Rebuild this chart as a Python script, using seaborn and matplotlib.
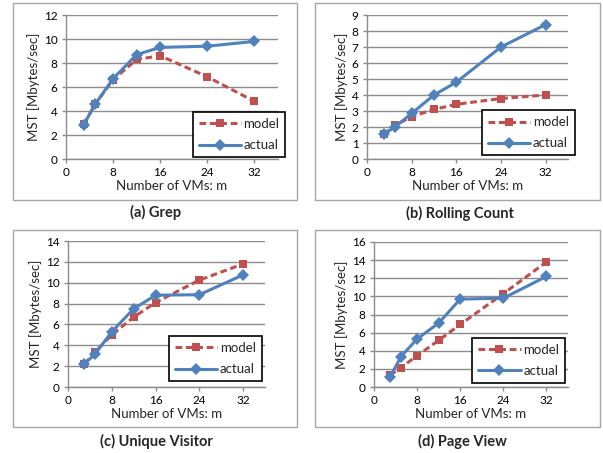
import pandas as pd
import numpy as np
import matplotlib
matplotlib.use("Agg")
import matplotlib.pyplot as plt
from matplotlib.patches import Rectangle
import seaborn as sns

# number of VMs (shared x values)
vms = [3, 5, 8, 12, 16, 24, 32]

# MST values (Mbytes/sec)
grep_model = [2.9, 4.6, 6.6, 8.3, 8.6, 6.85, 4.8]
grep_actual = [2.85, 4.6, 6.7, 8.7, 9.3, 9.4, 9.8]
rolling_model = [1.55, 2.1, 2.65, 3.1, 3.42, 3.78, 4.0]
rolling_actual = [1.55, 2.0, 2.85, 4.0, 4.8, 7.0, 8.4]
visitor_model = [2.2, 3.4, 5.0, 6.7, 8.1, 10.25, 11.8]
visitor_actual = [2.2, 3.2, 5.3, 7.5, 8.8, 8.85, 10.75]
pageview_model = [1.3, 2.15, 3.45, 5.15, 6.9, 10.3, 13.8]
pageview_actual = [1.1, 3.35, 5.3, 7.05, 9.7, 9.8, 12.2]

captions = ["(a) Grep", "(b) Rolling Count", "(c) Unique Visitor", "(d) Page View"]
y_max = [12, 9, 14, 16]
y_step = [2, 1, 2, 2]
x_ticks = [0, 8, 16, 24, 32]

panels = [
    (grep_model, grep_actual),
    (rolling_model, rolling_actual),
    (visitor_model, visitor_actual),
    (pageview_model, pageview_actual),
]

sns.set_theme(style="white")
plt.rcParams["font.family"] = ["Lato", "DejaVu Sans"]

W, H = 603, 453
fig = plt.figure(figsize=(W / 100, H / 100), dpi=100)

# layout in pixels: axes (left, right, top, bottom), frame box, caption pos, legend anchor
axes_px = [(66, 278, 15, 159), (367, 568, 15, 159), (68, 265, 241, 387), (374, 568, 242, 387)]
frame_px = [(13, 297, 3, 200), (315, 600, 3, 200), (13, 297, 230, 427), (315, 600, 230, 427)]
caption_px = [(156, 212), (460, 213), (156, 441), (462, 441)]
legend_anchor = [(1.035, 0.012), (1.035, 0.025), (0.985, 0.04), (0.985, 0.028)]

model_color = "#C0504D"
actual_color = "#4F81BD"

for i, (model, actual) in enumerate(panels):
    l, r, t, b = axes_px[i]
    ax = fig.add_axes([l / W, 1 - b / H, (r - l) / W, (b - t) / H])

    df = pd.DataFrame({
        "vms": vms * 2,
        "mst": model + actual,
        "series": ["model"] * len(vms) + ["actual"] * len(vms),
    })
    sns.lineplot(
        data=df, x="vms", y="mst", hue="series", style="series",
        hue_order=["model", "actual"], style_order=["model", "actual"],
        palette={"model": model_color, "actual": actual_color},
        markers={"model": "s", "actual": "D"},
        dashes={"model": (2.2, 1.2), "actual": ""},
        linewidth=2.2, markersize=6, markeredgewidth=0,
        ax=ax,
    )

    ax.set_xlim(0, 36)
    ax.set_ylim(0, y_max[i])
    ax.set_xticks(x_ticks)
    ax.set_yticks(np.arange(0, y_max[i] + 0.01, y_step[i]))
    ax.yaxis.grid(True, color="#8C8C8C", linewidth=1.0)
    ax.xaxis.grid(False)
    ax.set_axisbelow(True)
    for side in ["top", "right"]:
        ax.spines[side].set_visible(False)
    for side in ["left", "bottom"]:
        ax.spines[side].set_color("#8C8C8C")
        ax.spines[side].set_linewidth(1.0)
    ax.tick_params(axis="both", labelsize=8.5, colors="#8C8C8C", labelcolor="black",
                   length=3, width=1.0, direction="out", pad=3)
    ax.tick_params(axis="x", bottom=True)
    ax.tick_params(axis="y", left=True)
    ax.set_xlabel("Number of VMs: m", fontsize=9.5, labelpad=1)
    ax.set_ylabel("MST [Mbytes/sec]", fontsize=9.5, labelpad=3)

    handles, labels = ax.get_legend_handles_labels()
    ax.legend(handles, labels, loc="lower right", bbox_to_anchor=legend_anchor[i],
              frameon=True, fancybox=False, edgecolor="black", framealpha=1,
              fontsize=9.5, handlelength=3.2, handletextpad=0.2,
              borderpad=0.45, labelspacing=0.7, borderaxespad=0)
    ax.get_legend().get_frame().set_linewidth(1.2)

    fl, fr, ft, fb = frame_px[i]
    fig.patches.append(Rectangle((fl / W, 1 - fb / H), (fr - fl) / W, (fb - ft) / H,
                                 transform=fig.transFigure, fill=False,
                                 edgecolor="#A6A6A6", linewidth=1.0))

    cx, cy = caption_px[i]
    fig.text(cx / W, 1 - cy / H, captions[i], ha="center", va="center",
             fontsize=10.5, fontweight="bold")

fig.savefig("out.png", dpi=100)
